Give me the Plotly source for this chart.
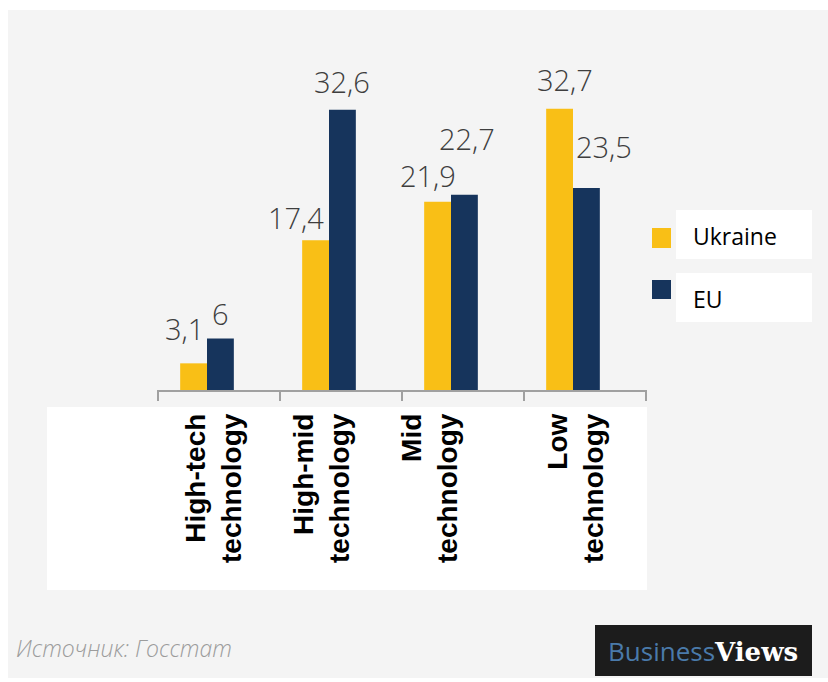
import plotly.graph_objects as go

# Share of manufacturing output by technology level, %
categories = ["High-tech technology", "High-mid technology", "Mid technology", "Low technology"]
ukraine = [3.1, 17.4, 21.9, 32.7]
eu = [6, 32.6, 22.7, 23.5]
series_names = ["Ukraine", "EU"]
source_text = "Источник: Госстат"

UA_COLOR = "#F9BF16"
EU_COLOR = "#16345C"

W, H = 828, 682
ML, MR, MT, MB = 157, 181, 50, 292
PW, PH = W - ML - MR, H - MT - MB
BAR_W = 0.22
X_RANGE = [-50 / 122.0, 440 / 122.0]
Y_RANGE = [0, PH / 8.6]


def px(xp):
    return (xp - ML) / PW


def py(yp):
    return (H - MB - yp) / PH


def fmt(v):
    return f"{v:g}".replace(".", ",")


xs = list(range(len(categories)))

fig = go.Figure()
fig.add_trace(go.Bar(x=xs, y=ukraine, name=series_names[0], width=BAR_W, offset=-BAR_W,
                     marker=dict(color=UA_COLOR, line_width=0), showlegend=False))
fig.add_trace(go.Bar(x=xs, y=eu, name=series_names[1], width=BAR_W, offset=0,
                     marker=dict(color=EU_COLOR, line_width=0), showlegend=False))

shapes = []
# grey card background
shapes.append(dict(type="rect", xref="paper", yref="paper", layer="below",
                   x0=px(8), x1=px(828), y0=py(678), y1=py(10),
                   fillcolor="#F4F4F4", line_width=0))
# white panel behind category names
shapes.append(dict(type="rect", xref="paper", yref="paper", layer="below",
                   x0=px(47), x1=px(647), y0=py(590), y1=py(407),
                   fillcolor="#FFFFFF", line_width=0))

annotations = []

# value labels above bars
ua_shift = [(-9, 35), (-20, 23), (-10, 26), (5, 29)]
eu_shift = [(0, 25), (0, 28), (3, 56), (18, 41)]
label_font = dict(family="Open Sans", size=29, color="#3E3E3E", weight=300)
for i, (u, e) in enumerate(zip(ukraine, eu)):
    annotations.append(dict(x=i - BAR_W / 2, y=u, xref="x", yref="y", text=fmt(u),
                            showarrow=False, xanchor="center", yanchor="middle",
                            xshift=ua_shift[i][0], yshift=ua_shift[i][1], font=label_font))
    annotations.append(dict(x=i + BAR_W / 2, y=e, xref="x", yref="y", text=fmt(e),
                            showarrow=False, xanchor="center", yanchor="middle",
                            xshift=eu_shift[i][0], yshift=eu_shift[i][1], font=label_font))

# rotated category names
cat_centers = [213, 321, 429, 575]
for name, cx in zip(categories, cat_centers):
    first, second = name.split(" ", 1)
    annotations.append(dict(x=px(cx), y=py(411), xref="paper", yref="paper",
                            text=f"{first}<br>{second}", textangle=-90, align="right",
                            showarrow=False, xanchor="center", yanchor="top",
                            font=dict(family="Liberation Sans", size=28, color="#000000",
                                      weight="bold")))

# legend
legend_rows = [(UA_COLOR, 210, 259, 228, 248), (EU_COLOR, 273, 322, 280, 299)]
for name, (col, by0, by1, sy0, sy1) in zip(series_names, legend_rows):
    shapes.append(dict(type="rect", xref="paper", yref="paper", layer="below",
                       x0=px(676), x1=px(812), y0=py(by1), y1=py(by0),
                       fillcolor="#FFFFFF", line_width=0))
    shapes.append(dict(type="rect", xref="paper", yref="paper",
                       x0=px(652), x1=px(671), y0=py(sy1), y1=py(sy0),
                       fillcolor=col, line_width=0))
    annotations.append(dict(x=px(691), y=py((by0 + by1) / 2 + 1), xref="paper", yref="paper",
                            text=name, showarrow=False, xanchor="left", yanchor="middle",
                            font=dict(family="Open Sans", size=23, color="#000000")))

# source note
annotations.append(dict(x=px(14), y=py(648), xref="paper", yref="paper",
                        text=f"<i>{source_text}</i>", showarrow=False,
                        xanchor="left", yanchor="middle",
                        font=dict(family="Open Sans", size=23, color="#9C9C9C", weight=300)))

# brand badge
shapes.append(dict(type="rect", xref="paper", yref="paper",
                   x0=px(595), x1=px(812), y0=py(676), y1=py(625),
                   fillcolor="#1C1C1C", line_width=0))
annotations.append(dict(x=px(703), y=py(651), xref="paper", yref="paper",
                        text="<span style='color:#4A7AAA'>Business</span>"
                             "<span style='color:#FFFFFF;font-family:DejaVu Serif;font-weight:bold'>Views</span>",
                        showarrow=False, xanchor="center", yanchor="middle",
                        font=dict(family="Open Sans", size=26, color="#4A7AAA")))

fig.update_layout(
    width=W, height=H,
    margin=dict(l=ML, r=MR, t=MT, b=MB, pad=0),
    paper_bgcolor="#FFFFFF",
    plot_bgcolor="rgba(0,0,0,0)",
    barmode="overlay",
    shapes=shapes,
    annotations=annotations,
    xaxis=dict(range=X_RANGE, showgrid=False, zeroline=False, showline=True,
               linecolor="#A0A0A0", linewidth=1.5, ticks="outside", ticklen=9,
               tickwidth=1.5, tickcolor="#A0A0A0",
               tickvals=[-0.4, 0.6, 1.6, 2.6, 3.6], showticklabels=False, fixedrange=True),
    yaxis=dict(range=Y_RANGE, visible=False, fixedrange=True),
)

fig.write_html("out.html")
